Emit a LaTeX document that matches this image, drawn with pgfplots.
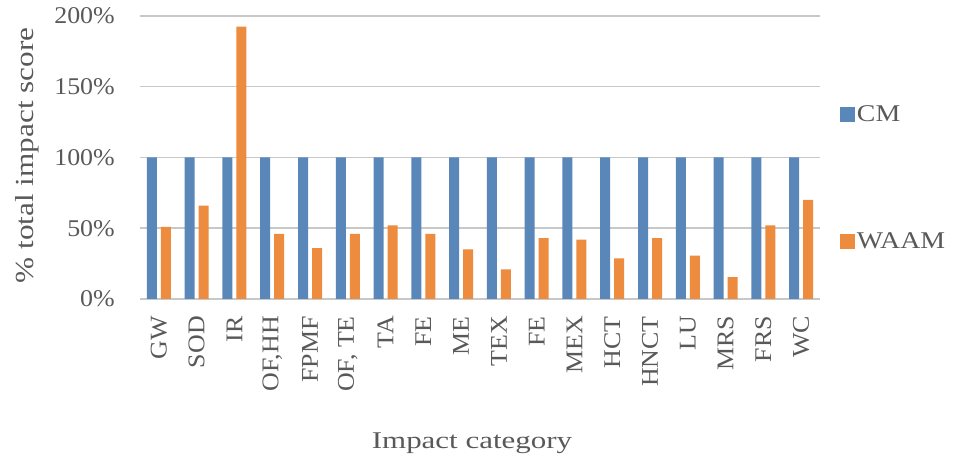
\documentclass[border=0pt]{standalone}
\usepackage{pgfplots}
\pgfplotsset{compat=1.18}
\usepackage{fontspec}
\setmainfont{Liberation Serif}
\newfontfamily\tickfont[FakeStretch=1.08]{Liberation Serif}
\newfontfamily\legfont[FakeStretch=1.16]{Liberation Serif}
\newfontfamily\ylabfont[FakeStretch=1.2]{Liberation Serif}
\newfontfamily\xlabfont[FakeStretch=1.29]{Liberation Serif}
\definecolor{cmblue}{HTML}{5A87BA}
\definecolor{waamorange}{HTML}{ED8B3E}
\definecolor{txtgray}{HTML}{595959}
\definecolor{gridgray}{HTML}{C8C8C8}

\begin{document}
\begin{tikzpicture}[x=1pt,y=1pt]
\useasboundingbox (0,0) rectangle (955,462);
\begin{axis}[
  at={(140pt,163pt)}, anchor=south west,
  scale only axis, width=680pt, height=283pt,
  xmin=-0.5, xmax=17.5, ymin=0, ymax=200,
  ybar=4pt, bar width=10pt,
  axis line style={draw=none},
  ymajorgrids, grid style={gridgray, line width=1.5pt},
  major tick length=0pt,
  xtick={0,...,17},
  xticklabels={GW,SOD,IR,{OF,HH},FPMF,{OF, TE},TA,FE,ME,TEX,FE,MEX,HCT,HNCT,LU,MRS,FRS,WC},
  xticklabel style={rotate=90, anchor=east, inner sep=0pt, text=txtgray,
    font=\tickfont\fontsize{24}{24}\selectfont},
  xticklabel shift=17pt,
  ytick={0,50,100,150,200},
  yticklabels={0\%,50\%,100\%,150\%,200\%},
  yticklabel style={anchor=east, inner sep=0pt, text=txtgray,
    font=\tickfont\fontsize{24}{24}\selectfont},
  yticklabel shift=25pt,
  legend style={at={(1.029,0.428)}, anchor=west, draw=none, fill=none,
    inner sep=0pt, row sep=105pt, text=txtgray,
    font=\legfont\fontsize{24}{24}\selectfont,
    nodes={inner sep=2pt}},
  legend cell align=left,
  legend image code/.code={\fill[#1] (0pt,-7.5pt) rectangle (15pt,7.5pt);},
]
\addplot[fill=cmblue, draw=none] coordinates {
  (0,100) (1,100) (2,100) (3,100) (4,100) (5,100) (6,100) (7,100) (8,100)
  (9,100) (10,100) (11,100) (12,100) (13,100) (14,100) (15,100) (16,100) (17,100)};
\addplot[fill=waamorange, draw=none] coordinates {
  (0,51) (1,66) (2,192.5) (3,46) (4,36) (5,46) (6,52) (7,46) (8,35)
  (9,21) (10,43) (11,42) (12,28.7) (13,43) (14,30.6) (15,15.5) (16,52) (17,70)};
\legend{CM,WAAM}
\end{axis}
\node[rotate=90, anchor=base, inner sep=0pt, text=txtgray,
  font=\ylabfont\fontsize{26}{26}\selectfont] at (33,306.5) {\% total impact score};
\node[anchor=base, inner sep=0pt, text=txtgray,
  font=\xlabfont\fontsize{24}{24}\selectfont] at (472,13) {Impact category};
\end{tikzpicture}
\end{document}
